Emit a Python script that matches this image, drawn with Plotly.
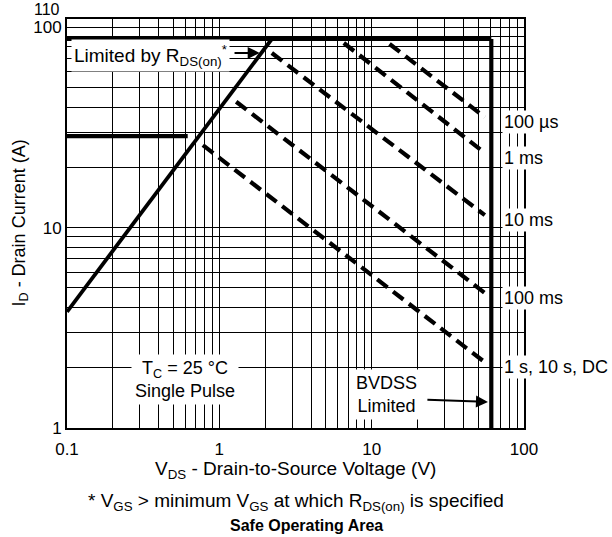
import math
import plotly.graph_objects as go

# ---------------- data ----------------
# V_DS in volts, I_D in amperes
rds_v = [0.1, 2.21]
rds_i = [3.8, 87.4]

pkg_limit_v = [0.1, 61.0]
pkg_limit_i = [87.4, 87.4]

bvdss_v = [61.0, 61.0]
bvdss_i = [87.4, 1.0]

id_limit_v = [0.1, 0.62]
id_limit_i = [28.6, 28.6]

pulse_names = ["100 µs", "1 ms", "10 ms", "100 ms", "1 s, 10 s, DC"]
pulse_v_start = [13.1, 6.56, 2.21, 1.29, 0.78]
pulse_i_start = [82.5, 83.5, 74.4, 42.5, 25.8]
pulse_v_end = [55.3, 55.3, 55.3, 55.3, 55.3]
pulse_i_end = [35.6, 23.6, 11.55, 4.72, 2.13]

x_ticks = [0.1, 1, 10, 100]
x_ticktext = ["0.1", "1", "10", "100"]
x_minor = [0.2, 0.3, 0.4, 0.5, 0.6, 0.7, 0.8, 0.9,
           2, 3, 4, 5, 6, 7, 8, 9,
           20, 30, 40, 50, 60, 70, 80, 90]
y_ticks = [1, 10, 100]
y_ticktext = ["1", "10", "100"]
y_minor = [2, 3, 4, 5, 6, 7, 8, 9,
           20, 30, 40, 50, 60, 70, 80, 90]
y_top_label = "110"
y_max = 110
x_min, x_max = 0.1, 100

FONT = "Liberation Sans, Arial, Helvetica, sans-serif"

fig = go.Figure()

solid = dict(color="black", width=4.2)
fig.add_trace(go.Scatter(x=rds_v, y=rds_i, mode="lines", line=dict(color="black", width=3.8)))
fig.add_trace(go.Scatter(x=pkg_limit_v, y=pkg_limit_i, mode="lines", line=solid))
fig.add_trace(go.Scatter(x=bvdss_v, y=bvdss_i, mode="lines", line=solid))
fig.add_trace(go.Scatter(x=id_limit_v, y=id_limit_i, mode="lines", line=solid))

for vs, is_, ve, ie in zip(pulse_v_start, pulse_i_start, pulse_v_end, pulse_i_end):
    fig.add_trace(go.Scatter(x=[vs, ve], y=[is_, ie], mode="lines",
                             line=dict(color="black", width=4.2, dash="13px,7px")))

annotations = []
label_x = 71.5
for name, ie in zip(pulse_names, pulse_i_end):
    annotations.append(dict(x=math.log10(label_x), y=math.log10(ie), xref="x", yref="y",
                            text=name, showarrow=False, xanchor="left", yanchor="middle",
                            yshift=-5, bgcolor="white", borderpad=1,
                            font=dict(size=18, color="black", family=FONT)))

# Limited by RDS(on)
annotations.append(dict(x=math.log10(0.107), y=math.log10(72.7), xref="x", yref="y",
                        text="Limited by R<sub>DS(on)</sub><sup>*</sup>", showarrow=False,
                        xanchor="left", yanchor="middle", bgcolor="white", borderpad=2,
                        font=dict(size=19, color="black", family=FONT)))
annotations.append(dict(x=math.log10(1.84), y=math.log10(74.5), xref="x", yref="y",
                        ax=math.log10(1.23), ay=math.log10(74.5), axref="x", ayref="y",
                        text="", showarrow=True, arrowhead=2, arrowsize=1.2, arrowwidth=2,
                        arrowcolor="black"))

# TC label
annotations.append(dict(x=math.log10(0.593), y=math.log10(1.75), xref="x", yref="y",
                        text="T<sub>C</sub> = 25 °C<br>Single Pulse", showarrow=False,
                        xanchor="center", yanchor="middle", bgcolor="white", borderpad=3,
                        font=dict(size=18, color="black", family=FONT)))

# BVDSS label
annotations.append(dict(x=math.log10(12.5), y=math.log10(1.473), xref="x", yref="y",
                        text="BVDSS<br>Limited", showarrow=False,
                        xanchor="center", yanchor="middle", bgcolor="white", borderpad=3,
                        font=dict(size=18, color="black", family=FONT)))
annotations.append(dict(x=math.log10(58.0), y=math.log10(1.35), xref="x", yref="y",
                        ax=math.log10(22.7), ay=math.log10(1.386), axref="x", ayref="y",
                        text="", showarrow=True, arrowhead=2, arrowsize=1.2, arrowwidth=2,
                        arrowcolor="black"))

# top y tick label
annotations.append(dict(x=0, y=math.log10(y_max), xref="paper", yref="y",
                        text=y_top_label, showarrow=False, xanchor="right", yanchor="middle",
                        xshift=-6, yshift=10, borderpad=0,
                        font=dict(size=16, color="black", family=FONT)))

# axis titles and footnote
annotations.append(dict(x=0, y=0.5, xref="paper", yref="paper", xshift=-47,
                        text="I<sub>D</sub> - Drain Current (A)", textangle=-90,
                        showarrow=False, xanchor="center", yanchor="middle",
                        font=dict(size=18, color="black", family=FONT)))
annotations.append(dict(x=0.5, y=0, xref="paper", yref="paper", yshift=-42,
                        text="V<sub>DS</sub> - Drain-to-Source Voltage (V)",
                        showarrow=False, xanchor="center", yanchor="middle",
                        font=dict(size=19, color="black", family=FONT)))
annotations.append(dict(x=0.5, y=0, xref="paper", yref="paper", yshift=-74,
                        text="* V<sub>GS</sub> > minimum V<sub>GS</sub> at which R<sub>DS(on)</sub> is specified",
                        showarrow=False, xanchor="center", yanchor="middle",
                        font=dict(size=19, color="black", family=FONT)))
annotations.append(dict(x=0.523, y=0, xref="paper", yref="paper", yshift=-97,
                        text="<b>Safe Operating Area</b>",
                        showarrow=False, xanchor="center", yanchor="middle",
                        font=dict(size=16, color="black", family=FONT)))

fig.update_layout(
    width=612, height=537,
    margin=dict(l=67, r=88, t=19, b=109, autoexpand=False),
    paper_bgcolor="white", plot_bgcolor="white",
    showlegend=False,
    font=dict(family=FONT, size=17, color="black"),
    annotations=annotations,
)
grid = dict(showgrid=True, gridcolor="black", gridwidth=1)
fig.update_xaxes(type="log", range=[math.log10(x_min), math.log10(x_max)],
                 tickmode="array", tickvals=x_ticks, ticktext=x_ticktext,
                 minor=dict(tickmode="array", tickvals=x_minor, ticks="", **grid),
                 showline=True, linecolor="black", linewidth=2, mirror=True,
                 ticks="", zeroline=False, ticklabelstandoff=5,
                 tickfont=dict(size=17, color="black"), **grid)
fig.update_yaxes(type="log", range=[0, math.log10(y_max)],
                 tickmode="array", tickvals=y_ticks, ticktext=y_ticktext,
                 minor=dict(tickmode="array", tickvals=y_minor, ticks="", **grid),
                 showline=True, linecolor="black", linewidth=2, mirror=True,
                 ticks="", zeroline=False,
                 tickfont=dict(size=17, color="black"), **grid)

# remove the default 8px page margin so the 612x537 figure fills the window exactly
fig.write_html("out.html",
               config={"displayModeBar": False},
               post_script="document.body.style.margin='0';document.body.style.overflow='hidden';")
